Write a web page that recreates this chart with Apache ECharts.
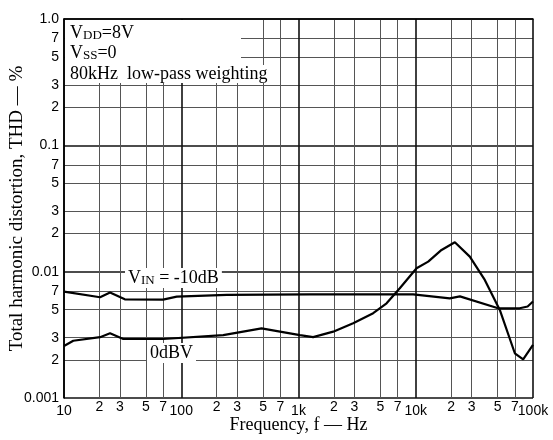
<!DOCTYPE html>
<html>
<head>
<meta charset="utf-8">
<title>THD - f</title>
<script src="https://cdn.jsdelivr.net/npm/echarts@6/dist/echarts.min.js"></script>
<style>
html, body { margin: 0; padding: 0; background: #fff; }
#thdChart { width: 553px; height: 440px; }
</style>
</head>
<body>
<div id="thdChart"></div>
<script>
// values: frequency in Hz, THD in %
// V_IN = -10dB curve (the flat one)
var freqM10 = [10, 20.3, 24.7, 33, 70, 91.5, 244, 1250, 9500, 19500, 23800, 50400, 77000, 90000, 100000];
var thdM10  = [0.00695, 0.00627, 0.00683, 0.00604, 0.0060, 0.00634, 0.00655, 0.0066, 0.00662, 0.00615, 0.00637, 0.00513, 0.00513, 0.0053, 0.0058];
// 0dBV curve (the one with the hump near 20k)
var freq0 = [10, 12, 20.3, 24.7, 32, 70, 228, 484, 1028, 1334, 1977, 2925, 4335, 5640, 7310, 10160, 12770, 16600, 21550, 28900, 38800, 52100, 70000, 82400, 100000];
var thd0  = [0.00258, 0.00284, 0.00303, 0.00325, 0.00293, 0.00293, 0.00315, 0.00356, 0.00315, 0.00303, 0.00335, 0.0039, 0.00469, 0.00562, 0.0074, 0.01064, 0.012, 0.01486, 0.0171, 0.01315, 0.0086, 0.00498, 0.00226, 0.00202, 0.00263];

// tick labels
var xMajorLabels = ['10', '100', '1k', '10k', '100k'];   // decades 10^1 .. 10^5
var yMajorLabels = ['0.001', '0.01', '0.1', '1.0'];      // decades 10^-3 .. 10^0
var minorDigits  = [2, 3, 5, 7];                          // grid lines inside each decade

// axes are plotted in log10 space
var lg = function (v) { return Math.log10(v); };

var minorVals = function (fromDec, toDec) {
	var out = [];
	for (var d = fromDec; d < toDec; d++) {
		minorDigits.forEach(function (k) { out.push(lg(k) + d); });
	}
	return out;
};
var xMinor = minorVals(1, 5);
var yMinor = minorVals(-3, 0);

var minorLabel = function (v) {
	var d = Math.floor(v + 1e-9);
	return String(Math.round(Math.pow(10, v - d)));
};

var toPairs = function (fs, ts) {
	return fs.map(function (f, i) { return [lg(f), lg(ts[i])]; });
};

var sansLab = { color: '#000', fontSize: 14, fontFamily: 'Liberation Sans' };
var serif = 'Liberation Serif';

var myChart = echarts.init(document.getElementById('thdChart'));

var option = {
	animation: false,
	backgroundColor: '#fff',
	grid: { left: 64, right: 20, top: 19, bottom: 42, containLabel: false, outerBoundsMode: 'none' },
	xAxis: [{
		type: 'value', min: 1, max: 5, interval: 1,
		name: 'Frequency, f \u2014 Hz', nameLocation: 'middle', nameGap: 18, nameMoveOverlap: false,
		nameTextStyle: { color: '#000', fontSize: 18, fontFamily: serif },
		axisLine: { show: true, lineStyle: { color: '#000', width: 1.6 } },
		axisTick: { show: false },
		splitLine: { show: true, lineStyle: { color: '#111', width: 1.6 } },
		axisLabel: Object.assign({ margin: 6, formatter: function (v) { return xMajorLabels[Math.round(v) - 1]; } }, sansLab)
	}, {
		type: 'value', min: 1, max: 5, position: 'bottom',
		axisLine: { show: false },
		axisTick: { show: false, customValues: xMinor },
		splitLine: { show: true, lineStyle: { color: '#555', width: 1 } },
		axisLabel: Object.assign({ margin: 2, customValues: xMinor, formatter: minorLabel }, sansLab)
	}],
	yAxis: [{
		type: 'value', min: -3, max: 0, interval: 1,
		name: 'Total harmonic distortion, THD \u2014 %', nameLocation: 'middle', nameGap: 37, nameMoveOverlap: false,
		nameTextStyle: { color: '#000', fontSize: 19, fontFamily: serif },
		axisLine: { show: true, lineStyle: { color: '#000', width: 1.6 } },
		axisTick: { show: false },
		splitLine: { show: true, lineStyle: { color: '#111', width: 1.6 } },
		axisLabel: Object.assign({ margin: 5, formatter: function (v) { return yMajorLabels[Math.round(v) + 3]; } }, sansLab)
	}, {
		type: 'value', min: -3, max: 0, position: 'left',
		axisLine: { show: false },
		axisTick: { show: false, customValues: yMinor },
		splitLine: { show: true, lineStyle: { color: '#555', width: 1 } },
		axisLabel: Object.assign({ margin: 5, customValues: yMinor, formatter: minorLabel }, sansLab)
	}],
	series: [{
		name: 'VIN=-10dB', type: 'line', xAxisIndex: 0, yAxisIndex: 0,
		data: toPairs(freqM10, thdM10), showSymbol: false, z: 5,
		lineStyle: { color: '#000', width: 2.2 }
	}, {
		name: '0dBV', type: 'line', xAxisIndex: 0, yAxisIndex: 0,
		data: toPairs(freq0, thd0), showSymbol: false, z: 5,
		lineStyle: { color: '#000', width: 2.2 }
	}],
	graphic: [
		// white patch behind the conditions text, like the datasheet
		{ type: 'rect', z: 10, shape: { x: 65, y: 20, width: 176, height: 63 }, style: { fill: '#fff' } },
		{ type: 'text', z: 11, style: {
			x: 70, y: 33, verticalAlign: 'middle', text: '{v|V}{s|DD}{v|=8V}',
			rich: { v: { fontSize: 18, fontFamily: serif, fill: '#000' }, s: { fontSize: 13, fontFamily: serif, fill: '#000', verticalAlign: 'bottom' } }
		} },
		{ type: 'text', z: 11, style: {
			x: 70, y: 53, verticalAlign: 'middle', text: '{v|V}{s|SS}{v|=0}',
			rich: { v: { fontSize: 18, fontFamily: serif, fill: '#000' }, s: { fontSize: 13, fontFamily: serif, fill: '#000', verticalAlign: 'bottom' } }
		} },
		{ type: 'text', z: 11, style: {
			x: 70, y: 74, verticalAlign: 'middle', text: '80kHz  low-pass weighting',
			fontSize: 18, fontFamily: serif, fill: '#000', backgroundColor: '#fff'
		} },
		// curve labels
		{ type: 'text', z: 11, style: {
			x: 125, y: 278, verticalAlign: 'middle', text: '{v|V}{s|IN}{v| = -10dB}',
			backgroundColor: '#fff', padding: [1, 3],
			rich: { v: { fontSize: 18, fontFamily: serif, fill: '#000' }, s: { fontSize: 13, fontFamily: serif, fill: '#000', verticalAlign: 'bottom' } }
		} },
		{ type: 'text', z: 11, style: {
			x: 147, y: 353, verticalAlign: 'middle', text: '0dBV',
			fontSize: 18, fontFamily: serif, fill: '#000', backgroundColor: '#fff', padding: [1, 3]
		} }
	]
};
myChart.setOption(option);
</script>
</body>
</html>
